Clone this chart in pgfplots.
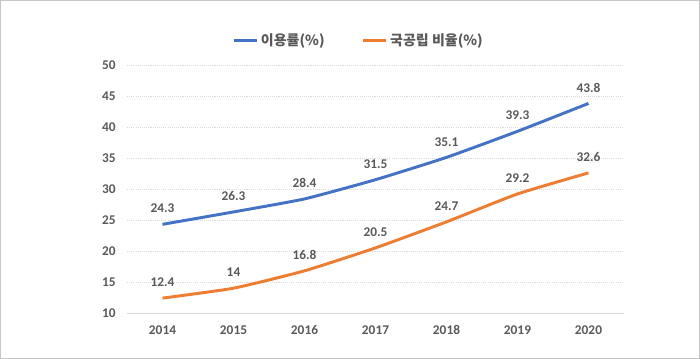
\documentclass[border=0pt]{standalone}
\usepackage{pgfplots}
\pgfplotsset{compat=1.18}
\usepackage{fontspec}
\setmainfont{Carlito}
\newfontfamily\kr{Noto Sans CJK KR}
\definecolor{txt}{HTML}{595959}
\definecolor{cblue}{HTML}{4472C4}
\definecolor{corange}{HTML}{ED7D31}
\definecolor{gridc}{HTML}{D9D9D9}
\begin{document}
\begin{tikzpicture}[x=1pt,y=1pt]
\draw[gray!45, line width=0.8pt] (0.4,0.4) rectangle (524.6,268.85);
\begin{axis}[
  at={(95.25pt,34.5pt)}, anchor=south west,
  scale only axis, width=372.75pt, height=186pt,
  xmin=-0.5, xmax=6.5, ymin=10, ymax=50,
  xtick={0,...,6}, xticklabels={2014,2015,2016,2017,2018,2019,2020},
  ytick={10,15,...,50},
  axis y line*=left, axis x line*=bottom,
  y axis line style={draw=none},
  x axis line style={draw=gridc, line width=0.7pt, -},
  tick style={draw=none},
  ymajorgrids, grid style={gridc, dash pattern=on 0.8pt off 0.8pt, line width=0.6pt},
  ticklabel style={font=\bfseries\fontsize{10}{12}\selectfont, text=txt},
  /pgf/number format/assume math mode=true,
  yticklabel style={xshift=-5pt},
  xticklabel style={yshift=-6pt},
  clip=false,
  nodes near coords,
  nodes near coords style={font=\bfseries\fontsize{10}{12}\selectfont, text=txt, anchor=south, yshift=4pt},
  legend columns=2,
  legend style={at={(0.467,1.10)}, anchor=center, draw=none, fill=none,
    font=\kr\bfseries\fontsize{10.5}{12}\selectfont, text=txt,
    /tikz/every even column/.append style={column sep=26pt}},
  legend image code/.code={\draw[#1, line width=2.2pt] (0pt,0pt) -- (17pt,0pt);},
]
\addplot[cblue, line width=2.2pt, smooth, tension=0.3] coordinates {(0,24.3) (1,26.3) (2,28.4) (3,31.5) (4,35.1) (5,39.3) (6,43.8)};
\addlegendentry{이용률(\%)}
\addplot[corange, line width=2.2pt, smooth, tension=0.3] coordinates {(0,12.4) (1,14) (2,16.8) (3,20.5) (4,24.7) (5,29.2) (6,32.6)};
\addlegendentry{국공립 비율(\%)}
\end{axis}
\end{tikzpicture}
\end{document}
